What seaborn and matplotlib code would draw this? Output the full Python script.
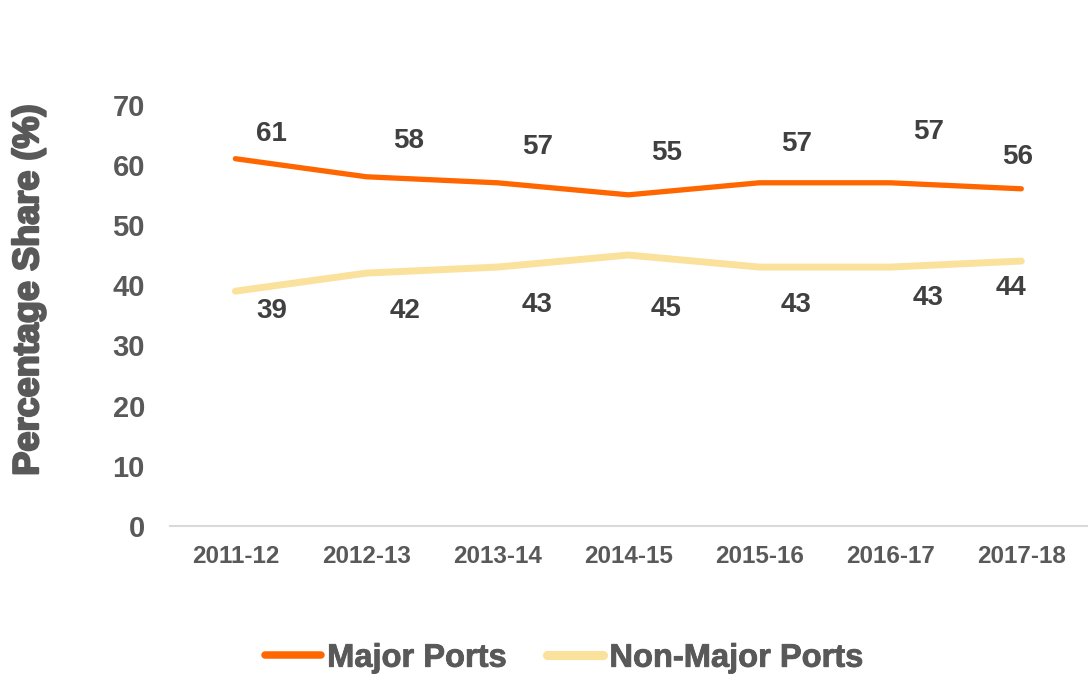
import pandas as pd
import matplotlib
matplotlib.use("Agg")
import matplotlib.pyplot as plt
import matplotlib.patheffects as pe
import seaborn as sns

# Data
years = ["2011-12", "2012-13", "2013-14", "2014-15", "2015-16", "2016-17", "2017-18"]
major_ports = [61, 58, 57, 55, 57, 57, 56]
non_major_ports = [39, 42, 43, 45, 43, 43, 44]
series_names = ["Major Ports", "Non-Major Ports"]

# Label placement (pixel offsets from each point, as in the original)
major_offsets = [(36, 25), (42, 36), (40, 36), (38, 42), (37, 39), (38, 51), (-4, 32)]
non_major_offsets = [(36, -20), (39, -38), (40, -38), (38, -54), (37, -38), (38, -31), (-10, -27)]

sns.set_theme(style="white")
plt.rcParams['font.family'] = ['Liberation Sans', 'DejaVu Sans']

df = pd.DataFrame({
    "Year": years * 2,
    "Share": major_ports + non_major_ports,
    "Series": [series_names[0]] * len(years) + [series_names[1]] * len(years),
})

palette = {series_names[0]: "#FF6600", series_names[1]: "#FAE29C"}
widths = {series_names[0]: 3.8, series_names[1]: 5.0}
tick_color = "#595959"
label_color = "#404040"

fig = plt.figure(figsize=(10.89, 6.8), dpi=100)
ax = fig.add_axes([0.156, 0.2265, 0.842, 0.6198])

sns.lineplot(data=df, x="Year", y="Share", hue="Series", palette=palette,
             size="Series", sizes=widths, sort=False, ax=ax, legend=False)
for line in ax.get_lines():
    line.set_solid_capstyle("round")
    line.set_solid_joinstyle("round")

# Data labels
for i, (val, off) in enumerate(zip(major_ports, major_offsets)):
    ax.annotate(str(val), (i, val), xytext=off, textcoords="offset pixels",
                ha="center", va="center", fontsize=20, fontweight="bold",
                color=label_color)
for i, (val, off) in enumerate(zip(non_major_ports, non_major_offsets)):
    ax.annotate(str(val), (i, val), xytext=off, textcoords="offset pixels",
                ha="center", va="center", fontsize=20, fontweight="bold",
                color=label_color)

ax.set_xlim(-0.5, len(years) - 0.5)
ax.set_ylim(0, 70)
ax.set_yticks(range(0, 71, 10))
ax.tick_params(axis="y", length=0, pad=18, labelsize=21, labelcolor=tick_color)
ax.tick_params(axis="x", length=0, pad=14, labelsize=17.5, labelcolor=tick_color)
for lbl in ax.get_xticklabels() + ax.get_yticklabels():
    lbl.set_fontweight("bold")

for side in ["top", "right", "left"]:
    ax.spines[side].set_visible(False)
ax.spines["bottom"].set_color("#D9D9D9")
ax.spines["bottom"].set_linewidth(1.5)

ax.set_xlabel("")
ax.set_ylabel("Percentage Share (%)", fontsize=26, fontweight="bold", color=tick_color)
ax.yaxis.label.set_path_effects([pe.withStroke(linewidth=1.6, foreground=tick_color)])
ax.yaxis.set_label_coords(-0.135, 0.56)

# Legend
handles = [plt.Line2D([], [], color=palette[s], linewidth=widths[s] + 1.6,
                      solid_capstyle="round")
           for s in series_names]
leg = fig.legend(handles, series_names, loc="center", bbox_to_anchor=(0.518, 0.032),
                 ncol=2, frameon=False, handlelength=1.7, handletextpad=0.2,
                 columnspacing=1.25,
                 prop={"weight": "bold", "size": 23.5})
for t in leg.get_texts():
    t.set_color(tick_color)
    t.set_path_effects([pe.withStroke(linewidth=0.6, foreground=tick_color)])

fig.savefig("out.png", dpi=100)
